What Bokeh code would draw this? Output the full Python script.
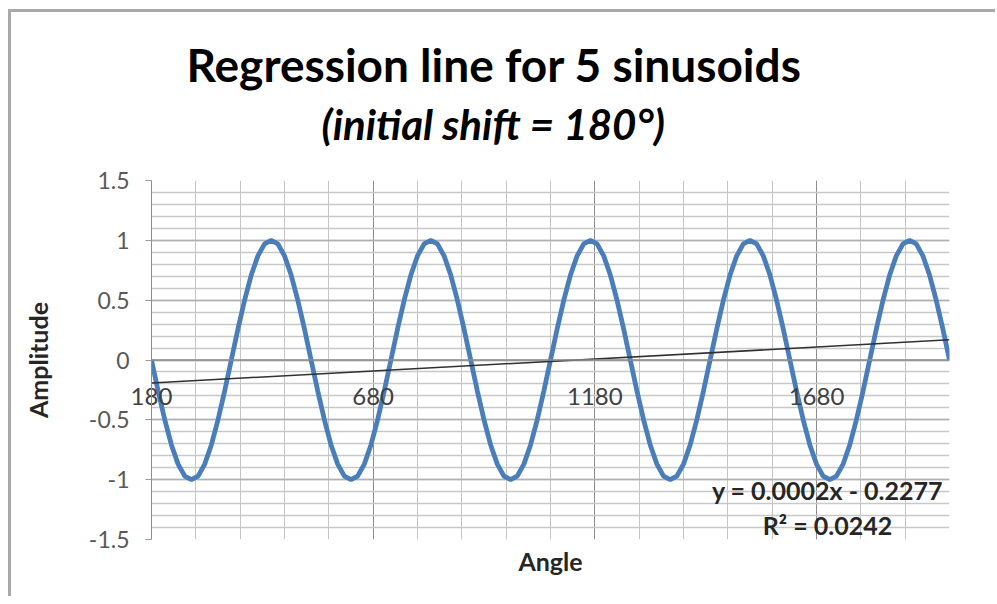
import numpy as np
from bokeh.plotting import figure
from bokeh.models import FixedTicker, Label, ColumnDataSource, Title, Span
from bokeh.embed import file_html
from bokeh.resources import INLINE

# ---- data ----
angles = list(range(180, 1981, 15))
amplitude = [
    0, -0.26, -0.5, -0.71, -0.87, -0.97, -1, -0.97, -0.87, -0.71, -0.5, -0.26,
    0, 0.26, 0.5, 0.71, 0.87, 0.97, 1, 0.97, 0.87, 0.71, 0.5, 0.26,
    0, -0.26, -0.5, -0.71, -0.87, -0.97, -1, -0.97, -0.87, -0.71, -0.5, -0.26,
    0, 0.26, 0.5, 0.71, 0.87, 0.97, 1, 0.97, 0.87, 0.71, 0.5, 0.26,
    0, -0.26, -0.5, -0.71, -0.87, -0.97, -1, -0.97, -0.87, -0.71, -0.5, -0.26,
    0, 0.26, 0.5, 0.71, 0.87, 0.97, 1, 0.97, 0.87, 0.71, 0.5, 0.26,
    0, -0.26, -0.5, -0.71, -0.87, -0.97, -1, -0.97, -0.87, -0.71, -0.5, -0.26,
    0, 0.26, 0.5, 0.71, 0.87, 0.97, 1, 0.97, 0.87, 0.71, 0.5, 0.26,
    0, -0.26, -0.5, -0.71, -0.87, -0.97, -1, -0.97, -0.87, -0.71, -0.5, -0.26,
    0, 0.26, 0.5, 0.71, 0.87, 0.97, 1, 0.97, 0.87, 0.71, 0.5, 0.26,
    0,
]
trend_slope = 0.0002
trend_intercept = -0.2277
trend_eq = "y = 0.0002x - 0.2277"
trend_r2 = "R² = 0.0242"
x_ticks = [180, 680, 1180, 1680]
x_tick_labels = ["180", "680", "1180", "1680"]
y_ticks = [-1.5, -1, -0.5, 0, 0.5, 1, 1.5]
y_tick_labels = ["-1.5", "-1", "-0.5", "0", "0.5", "1", "1.5"]
title = "Regression line for 5 sinusoids"
subtitle = "(initial shift = 180°)"
x_title = "Angle"
y_title = "Amplitude"

x_min, x_max = 180, 1980
FONT = "Lato"

p = figure(width=995, height=596, output_backend="svg", toolbar_location=None,
           x_range=(x_min, x_max), y_range=(-1.5, 1.5),
           min_border_left=151, min_border_right=46, min_border_top=180,
           min_border_bottom=57)
p.outline_line_color = None
p.background_fill_color = "white"
p.border_fill_color = "white"
p.border_fill_alpha = 0
p.styles = {"box-shadow": "inset 8px 9px 0 0 white, inset 11px 12px 0 0 #a9a9a9",
            "background-color": "white"}

# grids
p.xgrid.ticker = FixedTicker(ticks=x_ticks, minor_ticks=list(range(180, 1981, 100)))
p.xgrid.grid_line_color = "#8c8c8c"
p.xgrid.grid_line_width = 1
p.xgrid.minor_grid_line_color = "#c4c4c4"
p.xgrid.minor_grid_line_width = 1
p.ygrid.ticker = FixedTicker(ticks=y_ticks, minor_ticks=[round(v, 1) for v in np.arange(-1.5, 1.51, 0.1)])
p.ygrid.grid_line_color = "#b0b0b0"
p.ygrid.grid_line_width = 1.5
p.ygrid.minor_grid_line_color = "#c8c8c8"
p.ygrid.minor_grid_line_width = 1.5

# y axis
p.yaxis.ticker = FixedTicker(ticks=y_ticks)
p.yaxis.major_label_overrides = {t: l for t, l in zip(y_ticks, y_tick_labels)}
p.yaxis.major_label_text_font = FONT
p.yaxis.major_label_text_font_size = "23px"
p.yaxis.major_label_text_color = "#595959"
p.yaxis.major_label_standoff = 16
p.yaxis.major_tick_out = 6
p.yaxis.major_tick_in = 0
p.yaxis.minor_tick_out = 0
p.yaxis.minor_tick_in = 0
p.yaxis.major_tick_line_color = "#9a9a9a"
p.yaxis.axis_line_color = "#8c8c8c"
p.yaxis.axis_label = y_title
p.yaxis.axis_label_text_font = FONT
p.yaxis.axis_label_text_font_style = "bold"
p.yaxis.axis_label_text_font_size = "25px"
p.yaxis.axis_label_text_color = "#262626"
p.yaxis.axis_label_standoff = 33

# bottom x axis: its tick labels are pulled up beside the y = 0 line
p.xaxis.ticker = FixedTicker(ticks=x_ticks)
p.xaxis.major_label_overrides = {t: l for t, l in zip(x_ticks, x_tick_labels)}
p.xaxis.major_label_text_font = FONT
p.xaxis.major_label_text_font_size = "24px"
p.xaxis.major_label_text_color = "#404040"
p.xaxis.major_label_standoff = -152
p.xaxis.major_tick_out = 0
p.xaxis.major_tick_in = 0
p.xaxis.minor_tick_out = 0
p.xaxis.minor_tick_in = 0
p.xaxis.axis_line_color = None
p.xaxis.axis_label = x_title
p.xaxis.axis_label_text_font = FONT
p.xaxis.axis_label_text_font_style = "bold"
p.xaxis.axis_label_text_font_size = "25px"
p.xaxis.axis_label_text_color = "#262626"
p.xaxis.axis_label_standoff = 138

# line of the horizontal axis at y = 0
p.add_layout(Span(location=0, dimension="width", line_color="#8c8c8c", line_width=1.5))

# data
src = ColumnDataSource(dict(x=angles, y=amplitude))
p.line("x", "y", source=src, line_color="#4a7ebb", line_width=4.8)

# trendline
tx = [x_min, x_max]
ty = [trend_slope * v + trend_intercept for v in tx]
p.line(x=tx, y=ty, line_color="#303030", line_width=1.5)

# trendline labels
p.add_layout(Label(x=676, y=50, x_units="screen", y_units="screen", text=trend_eq,
                   text_align="center", text_baseline="middle", text_font=FONT,
                   text_font_style="bold", text_font_size="25px", text_color="#262626"))
p.add_layout(Label(x=676, y=15, x_units="screen", y_units="screen", text=trend_r2,
                   text_align="center", text_baseline="middle", text_font=FONT,
                   text_font_style="bold", text_font_size="25px", text_color="#262626"))

# titles (subtitle first = closer to plot)
p.add_layout(Title(text=subtitle, align="left", offset=170, text_font=FONT,
                   text_font_style="bold italic", text_font_size="42px",
                   text_color="black", standoff=64), "above")
p.add_layout(Title(text=title, align="left", offset=35, text_font=FONT,
                   text_font_style="bold", text_font_size="46px",
                   text_color="black", standoff=-54), "above")

open("out.html", "w").write(file_html(p, INLINE))
